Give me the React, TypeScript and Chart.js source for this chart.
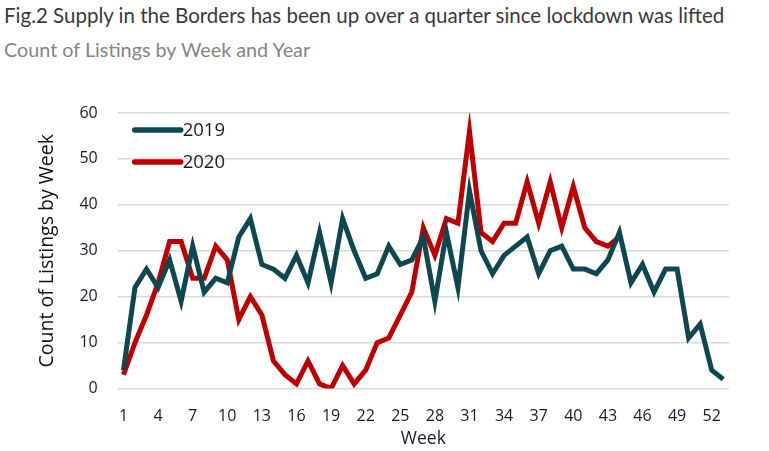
import React, { useEffect, useRef } from "react";
import { Chart, registerables } from "chart.js";

Chart.register(...registerables);

const weeks: string[] = Array.from({ length: 53 }, (_, i) => String(i + 1));
const series2019: number[] = [
  4, 22, 26, 22, 28, 19, 31, 21, 24, 23, 33, 37, 27, 26, 24, 29, 23, 34, 23, 37,
  30, 24, 25, 31, 27, 28, 33, 19, 34, 22, 43, 30, 25, 29, 31, 33, 25, 30, 31, 26,
  26, 25, 28, 34, 23, 27, 21, 26, 26, 11, 14, 4, 2,
];
const series2020: (number | null)[] = [
  3, 10, 16, 23, 32, 32, 24, 24, 31, 28, 15, 20, 16, 6, 3, 1, 6, 1, 0, 5,
  1, 4, 10, 11, 16, 21, 35, 29, 37, 36, 56, 34, 32, 36, 36, 45, 36, 45, 35, 44,
  35, 32, 31, 33,
];
const yTicks = { min: 0, max: 60, step: 10 };
const title = "Fig.2 Supply in the Borders has been up over a quarter since lockdown was lifted";
const subtitle = "Count of Listings by Week and Year";

const COLOR_2019 = "#0d4750";
const COLOR_2020 = "#c00000";
const TICK_FONT = "'Open Sans', sans-serif";

const insideLegend = {
  id: "insideLegend",
  afterDraw(chart: any) {
    const ctx = chart.ctx;
    const ds = chart.data.datasets;
    const x0 = chart.chartArea.left + 17;
    const ys = [chart.chartArea.top + 17, chart.chartArea.top + 49];
    ds.forEach((d: any, i: number) => {
      ctx.save();
      ctx.strokeStyle = d.borderColor;
      ctx.lineWidth = 5.5;
      ctx.lineCap = "round";
      ctx.beginPath();
      ctx.moveTo(x0, ys[i]);
      ctx.lineTo(x0 + 46, ys[i]);
      ctx.stroke();
      ctx.fillStyle = "#1a1a2e";
      ctx.font = `18.5px ${TICK_FONT}`;
      ctx.textBaseline = "middle";
      ctx.fillText(d.label, x0 + 48, ys[i] + 1);
      ctx.restore();
    });
  },
};

export default function App() {
  const ref = useRef<HTMLCanvasElement>(null);
  useEffect(() => {
    if (!ref.current) return;
    const chart = new Chart(ref.current, {
      type: "line",
      data: {
        labels: weeks,
        datasets: [
          {
            label: "2019",
            data: series2019,
            borderColor: COLOR_2019,
            backgroundColor: COLOR_2019,
            borderWidth: 5,
            pointRadius: 0,
            tension: 0,
            borderJoinStyle: "miter",
          },
          {
            label: "2020",
            data: series2020,
            borderColor: COLOR_2020,
            backgroundColor: COLOR_2020,
            borderWidth: 5,
            pointRadius: 0,
            tension: 0,
            borderJoinStyle: "miter",
          },
        ],
      },
      options: {
        animation: false,
        responsive: false,
        maintainAspectRatio: false,
        layout: { padding: { left: 36, right: 40, top: 34, bottom: 3 } },
        plugins: { legend: { display: false }, tooltip: { enabled: false } },
        scales: {
          x: {
            offset: true,
            grid: { display: false, drawTicks: false },
            border: { display: false },
            ticks: {
              autoSkip: false,
              maxRotation: 0,
              padding: 20,
              color: "#1a1a2e",
              font: { family: TICK_FONT, size: 16, lineHeight: 1.0 },
              callback: (_v: any, i: number) => (i % 3 === 0 ? weeks[i] : ""),
            },
            title: {
              display: true,
              text: "Week",
              color: "#1a1a2e",
              font: { family: TICK_FONT, size: 17.5, lineHeight: 1.0 },
              padding: { top: -14, bottom: 0 },
            },
          },
          y: {
            min: yTicks.min,
            max: yTicks.max,
            ticks: {
              stepSize: yTicks.step,
              padding: 20,
              color: "#1a1a2e",
              font: { family: TICK_FONT, size: 16 },
            },
            grid: { color: "#d9d9d9", lineWidth: 1.5, drawTicks: false },
            border: { display: false },
            title: {
              display: true,
              text: "Count of Listings by Week",
              color: "#111",
              font: { family: TICK_FONT, size: 19.5 },
              padding: { top: 0, bottom: 0 },
            },
          },
        },
      },
      plugins: [insideLegend],
    });
    return () => chart.destroy();
  }, []);

  return (
    <div style={{ position: "absolute", left: 0, top: 0, width: 769, height: 451, background: "#fff", overflow: "hidden" }}>
      <div style={{ position: "absolute", left: 4, top: 3, fontFamily: "Lato, sans-serif", fontSize: 20.5, color: "#3a3a3a", whiteSpace: "nowrap" }}>
        {title}
      </div>
      <div style={{ position: "absolute", left: 4, top: 37, fontFamily: "Lato, sans-serif", fontSize: 19.8, color: "#858585", whiteSpace: "nowrap" }}>
        {subtitle}
      </div>
      <canvas ref={ref} width={769} height={372} style={{ position: "absolute", left: 0, top: 79, width: 769, height: 372 }} />
    </div>
  );
}
